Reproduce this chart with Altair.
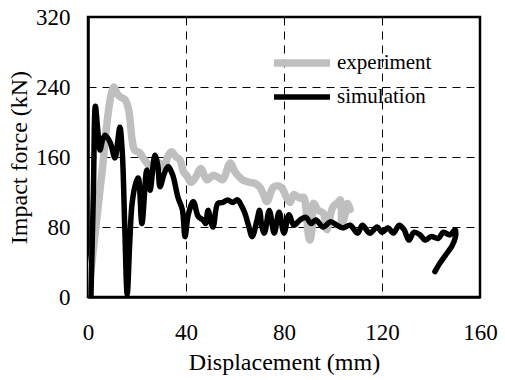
import altair as alt
import pandas as pd

# Experiment (gray) curve: displacement (mm), force (kN)
exp_d = [0, 2, 4, 6, 8, 9.5, 10.6, 12, 13.5, 15, 16.5, 18, 19, 21, 23, 25, 27, 29, 31, 32.5,
         34, 36, 37.5, 39, 40.5, 42, 44, 46, 48.5, 51, 53, 55, 58, 60, 61.5, 63, 66, 68, 70,
         71.5, 73, 75.5, 77, 79, 81, 82.5, 84, 86.5, 88, 89, 90, 90.6, 91.5, 92, 94, 96, 97.5,
         98.5, 100, 102, 103, 103.7, 105, 106, 107]
exp_f = [0, 50, 100, 150, 205, 232, 240, 232, 228, 226, 215, 180, 168, 165, 157, 150, 145, 153,
         148, 160, 166, 160, 157, 143, 138, 131, 137, 147, 134, 139, 137, 134, 153, 143, 138,
         134, 131, 130, 126, 118, 109, 125, 127, 125, 114, 108, 117, 113, 114, 100, 70, 65, 80,
         107, 99, 96, 77, 88, 103, 108, 111, 84, 95, 107, 100]

# Simulation (black) curve
sim_d = [1.2, 2.2, 3, 4, 4.9, 6, 7, 9, 11, 12, 13, 14, 15, 16, 17, 18, 19.5, 20.5, 22, 24,
         25.3, 27.3, 28.5, 29.4, 31, 32.6, 34.5, 36.7, 38.5, 39.6, 41, 43, 45, 47, 48, 49, 51,
         53, 55, 57, 59, 61, 62.5, 64, 65.5, 67, 69, 70, 71, 72, 74, 76, 78, 80, 82, 84, 86.5,
         89, 91, 93, 96, 99, 101.6, 104, 107, 110, 112, 115, 118, 120, 122.5, 124.6, 127, 129,
         131, 133, 135.5, 137.6, 140, 143, 145, 147.8, 149.8, 150, 148.5, 146.5, 143.7, 141.6]
sim_f = [0, 120, 218, 190, 168, 180, 185, 177, 159, 175, 194, 165, 80, 3, 60, 107, 130, 136,
         84, 145, 122, 162, 150, 126, 140, 149, 140, 114, 100, 69, 95, 109, 92, 88, 84, 99, 80,
         107, 108, 111, 108, 111, 105, 96, 82, 69, 88, 99, 80, 73, 99, 73, 97, 73, 94, 82, 88,
         91, 84, 88, 80, 86, 82, 79, 82, 73, 82, 73, 80, 74, 79, 73, 82, 77, 65, 74, 71, 65, 69,
         67, 74, 71, 77, 69, 58, 50, 39, 29]

series = ["experiment", "simulation"]
colors = ["#bfbfbf", "#000000"]
widths = [7.5, 5.5]
x_ticks = [0, 40, 80, 120, 160]
y_ticks = [0, 80, 160, 240, 320]

rows = []
for i, (d, f) in enumerate(zip(exp_d, exp_f)):
    rows.append({"series": series[0], "d": d, "f": f, "i": i})
for i, (d, f) in enumerate(zip(sim_d, sim_f)):
    rows.append({"series": series[1], "d": d, "f": f, "i": i})
df = pd.DataFrame(rows)

FONT = "Liberation Serif"

leg = dict(title=None, orient="none", legendX=200, legendY=32,
           symbolType="M-2.8,0H2.8", symbolSize=400,
           labelFontSize=21, labelFont=FONT, labelColor="black", labelOffset=21,
           rowPadding=6, padding=0)

chart = alt.Chart(df).mark_line(strokeCap="round", strokeJoin="round",
                                interpolate="catmull-rom", clip=True).encode(
    x=alt.X("d:Q", scale=alt.Scale(domain=[0, 160], nice=False),
            axis=alt.Axis(values=x_ticks, title="Displacement (mm)", labelPadding=24,
                          titlePadding=6, labelFlush=False, labelFont=FONT,
                          titleFont=FONT)),
    y=alt.Y("f:Q", scale=alt.Scale(domain=[0, 320], nice=False),
            axis=alt.Axis(values=y_ticks, title="Impact force (kN)", labelPadding=18,
                          titlePadding=4, labelFlush=False, labelFont=FONT,
                          titleFont=FONT)),
    color=alt.Color("series:N", scale=alt.Scale(domain=series, range=colors),
                    legend=alt.Legend(**leg)),
    strokeWidth=alt.StrokeWidth("series:N", scale=alt.Scale(domain=series, range=widths),
                                legend=alt.Legend(**leg)),
    order=alt.Order("i:Q"),
).properties(
    width=392, height=280,
    autosize=alt.AutoSizeParams(type="none"),
    padding={"left": 88, "top": 17, "right": 25, "bottom": 83},
).configure(
    font=FONT,
).configure_view(
    stroke="black", strokeWidth=2.5
).configure_axis(
    labelFont=FONT, titleFont=FONT, labelFontSize=23, titleFontSize=24,
    labelColor="black", titleColor="black", titleFontWeight="normal",
    grid=True, gridColor="#000000", gridDash=[8, 6], gridWidth=1, gridOpacity=1,
    domain=True, domainColor="black", domainWidth=2.5, ticks=False,
).configure_legend(
    labelColor="black"
)

chart.save("out.html", embed_options={"renderer": "svg", "actions": False})
